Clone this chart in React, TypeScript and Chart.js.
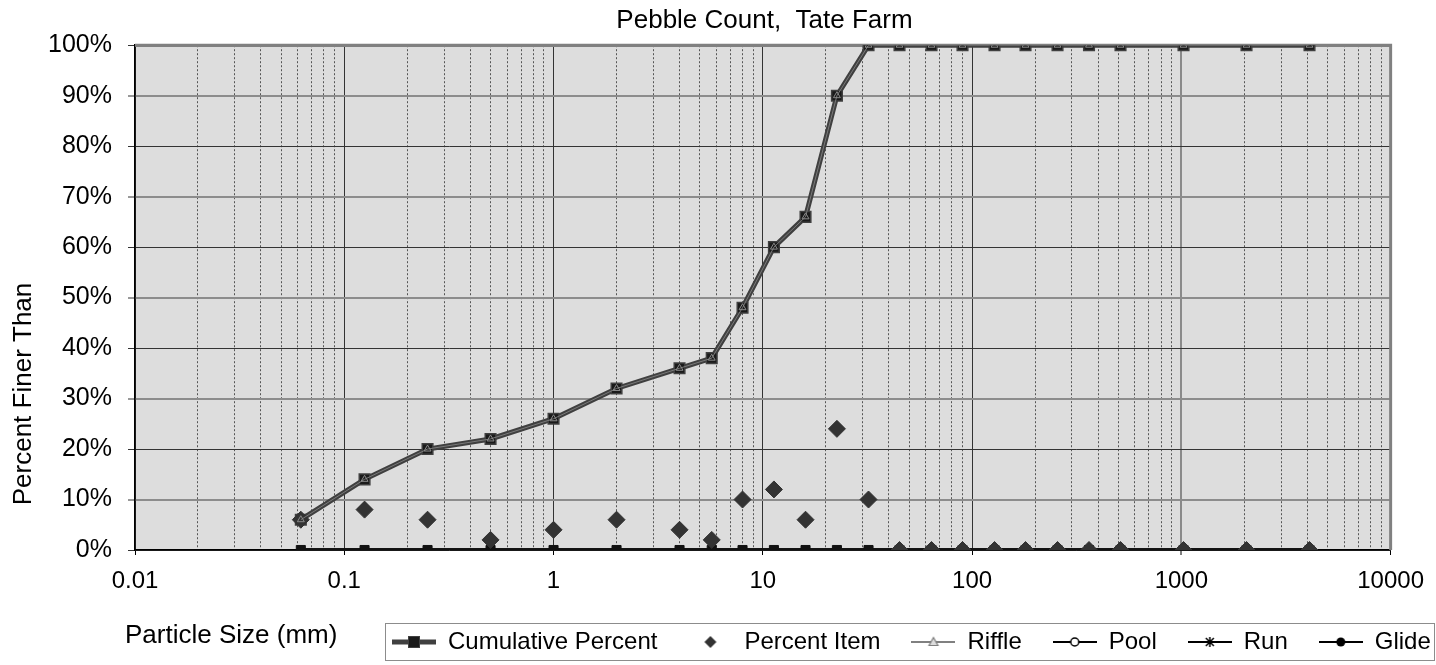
import React, { useEffect, useRef } from 'react';
import { Chart, registerables } from 'chart.js';

Chart.register(...registerables);

const FONT = "'Liberation Sans', Arial, sans-serif";

// ---- data ----
const particleSizes = [0.062, 0.125, 0.25, 0.5, 1, 2, 4, 5.7, 8, 11.3, 16, 22.6, 32, 45, 64, 90, 128, 180, 256, 362, 512, 1024, 2048, 4096];
const cumulativePercent = [6, 14, 20, 22, 26, 32, 36, 38, 48, 60, 66, 90, 100, 100, 100, 100, 100, 100, 100, 100, 100, 100, 100, 100];
const percentItem = [6, 8, 6, 2, 4, 6, 4, 2, 10, 12, 6, 24, 10, 0, 0, 0, 0, 0, 0, 0, 0, 0, 0, 0];
const riffle = [6, 14, 20, 22, 26, 32, 36, 38, 48, 60, 66, 90, 100, 100, 100, 100, 100, 100, 100, 100, 100, 100, 100, 100];
const pool = [0, 0, 0, 0, 0, 0, 0, 0, 0, 0, 0, 0, 0, 0, 0, 0, 0, 0, 0, 0, 0, 0, 0, 0];
const run = [0, 0, 0, 0, 0, 0, 0, 0, 0, 0, 0, 0, 0, 0, 0, 0, 0, 0, 0, 0, 0, 0, 0, 0];
const glide = [0, 0, 0, 0, 0, 0, 0, 0, 0, 0, 0, 0, 0, 0, 0, 0, 0, 0, 0, 0, 0, 0, 0, 0];

const seriesLabels = ['Cumulative Percent', 'Percent Item', 'Riffle', 'Pool', 'Run', 'Glide'];
const xDecades = [0.01, 0.1, 1, 10, 100, 1000, 10000];
const xDecadeLabels = ['0.01', '0.1', '1', '10', '100', '1000', '10000'];
const xMinorSteps = [2, 3, 4, 5, 6, 7, 8, 9];
const yTickValues = [0, 10, 20, 30, 40, 50, 60, 70, 80, 90, 100];

const chartTitle = 'Pebble Count,  Tate Farm';
const xTitle = 'Particle Size (mm)';
const yTitle = 'Percent Finer Than';

// ---- layout constants ----
const W = 1436;
const H = 665;
const PLOT_BOTTOM = 550;
const LEGEND_BOX = { left: 385.5, top: 623.5, width: 1049, height: 37 };
const LEGEND_ITEM_X = 392;
const LEGEND_ITEM_CY = 642;
const X_TITLE_LEFT = 125;
const X_TITLE_CY = 636;
const Y_TITLE_CX = 24;
const Y_TITLE_CY = 394;

const pts = (ys: number[]) => particleSizes.map((x, i) => ({ x, y: ys[i] }));

function makeIcon(kind: number): HTMLCanvasElement {
  const c = document.createElement('canvas');
  c.width = 44;
  c.height = 20;
  const g = c.getContext('2d') as CanvasRenderingContext2D;
  const cx = 22;
  const cy = 10;
  const line = (color: string, w: number) => {
    g.strokeStyle = color;
    g.lineWidth = w;
    g.beginPath();
    g.moveTo(0, cy);
    g.lineTo(44, cy);
    g.stroke();
  };
  if (kind === 0) {
    line('#404040', 5);
    g.fillStyle = '#1a1a1a';
    g.fillRect(cx - 5, cy - 5, 10, 10);
    g.strokeStyle = '#404040';
    g.lineWidth = 1;
    g.strokeRect(cx - 5.5, cy - 5.5, 11, 11);
  } else if (kind === 1) {
    g.fillStyle = '#333';
    g.beginPath();
    g.moveTo(cx - 6, cy);
    g.lineTo(cx, cy - 6);
    g.lineTo(cx + 6, cy);
    g.lineTo(cx, cy + 6);
    g.closePath();
    g.fill();
  } else if (kind === 2) {
    line('#808080', 2);
    g.fillStyle = '#dddddd';
    g.strokeStyle = '#808080';
    g.lineWidth = 1.2;
    g.beginPath();
    g.moveTo(cx, cy - 4.5);
    g.lineTo(cx + 4.5, cy + 3.5);
    g.lineTo(cx - 4.5, cy + 3.5);
    g.closePath();
    g.fill();
    g.stroke();
  } else if (kind === 3) {
    line('#000', 2);
    g.fillStyle = '#fff';
    g.strokeStyle = '#000';
    g.lineWidth = 1.5;
    g.beginPath();
    g.arc(cx, cy, 4, 0, Math.PI * 2);
    g.fill();
    g.stroke();
  } else if (kind === 4) {
    line('#000', 2);
    g.strokeStyle = '#000';
    g.lineWidth = 1.5;
    g.beginPath();
    g.moveTo(cx - 4, cy - 4);
    g.lineTo(cx + 4, cy + 4);
    g.moveTo(cx + 4, cy - 4);
    g.lineTo(cx - 4, cy + 4);
    g.moveTo(cx, cy - 5);
    g.lineTo(cx, cy + 5);
    g.stroke();
  } else {
    line('#000', 2);
    g.fillStyle = '#000';
    g.beginPath();
    g.arc(cx, cy, 4.5, 0, Math.PI * 2);
    g.fill();
  }
  return c;
}

const bgPlugin = {
  id: 'plotBackground',
  beforeDraw(chart: any) {
    const { ctx, chartArea: a } = chart;
    ctx.save();
    ctx.fillStyle = '#ffffff';
    ctx.fillRect(0, 0, chart.width, chart.height);
    ctx.fillStyle = '#dddddd';
    ctx.fillRect(a.left, a.top, a.right - a.left, a.bottom - a.top);
    ctx.restore();
  },
  beforeDatasetsDraw(chart: any) {
    const { ctx, chartArea: a } = chart;
    ctx.save();
    ctx.strokeStyle = '#808080';
    ctx.lineWidth = 3;
    ctx.beginPath();
    ctx.moveTo(a.left, a.top);
    ctx.lineTo(a.right, a.top);
    ctx.lineTo(a.right, a.bottom);
    ctx.stroke();
    ctx.restore();
  },
  afterLayout(chart: any) {
    const lg = chart.legend;
    if (lg) {
      const p = lg.options.labels.padding;
      const fs = lg.options.labels.font.size;
      lg.left = LEGEND_ITEM_X - p;
      lg.right = lg.left + lg.width;
      lg.top = LEGEND_ITEM_CY - fs / 2 - p;
      lg.bottom = lg.top + lg.height;
    }
    // widen the y axis label clip region (its box has zero width)
    const ys = chart.scales.y;
    ys.left = 0;
    // the axis titles are carried by invisible helper axes
    const xm = chart.scales.xMinor;
    xm.left = X_TITLE_LEFT;
    xm.bottom = X_TITLE_CY + (xm.options.title.font.size * 1.2) / 2;
    const yt = chart.scales.yTitleAxis;
    yt.left = Y_TITLE_CX - (yt.options.title.font.size * 1.2) / 2;
    yt.top = Y_TITLE_CY - 160;
    yt.bottom = Y_TITLE_CY + 160;
  },
  afterDraw(chart: any) {
    const ctx = chart.ctx;
    ctx.save();
    ctx.strokeStyle = '#8c8c8c';
    ctx.lineWidth = 1;
    ctx.strokeRect(LEGEND_BOX.left, LEGEND_BOX.top, LEGEND_BOX.width, LEGEND_BOX.height);
    ctx.restore();
  },
};

export default function App() {
  const ref = useRef<HTMLCanvasElement | null>(null);

  useEffect(() => {
    if (!ref.current) return;
    const icons = seriesLabels.map((_, i) => makeIcon(i));
    const xMinorTicks = xDecades
      .slice(0, -1)
      .flatMap((d) => xMinorSteps.map((k) => Number((d * k).toPrecision(6))));

    const chart = new Chart(ref.current, {
      type: 'line',
      data: {
        datasets: [
          {
            label: seriesLabels[0],
            data: pts(cumulativePercent),
            borderColor: '#404040',
            borderWidth: 5,
            pointStyle: 'rect',
            pointRadius: 7.5,
            pointBackgroundColor: '#1a1a1a',
            pointBorderColor: '#404040',
            pointBorderWidth: 1.5,
            tension: 0,
            order: 2,
          },
          {
            label: seriesLabels[1],
            data: pts(percentItem),
            showLine: false,
            pointStyle: 'rectRot',
            pointRadius: 8.5,
            pointBackgroundColor: '#333333',
            pointBorderColor: '#333333',
            pointBorderWidth: 1,
            order: 1,
          },
          {
            label: seriesLabels[2],
            data: pts(riffle),
            borderColor: '#7a7a7a',
            borderWidth: 1,
            pointStyle: 'triangle',
            pointRadius: 4,
            pointBackgroundColor: 'rgba(0,0,0,0)',
            pointBorderColor: '#8a8a8a',
            pointBorderWidth: 1,
            tension: 0,
            order: 0,
          },
          {
            label: seriesLabels[3],
            data: pts(pool),
            borderColor: '#111111',
            borderWidth: 3.5,
            pointRadius: 0,
            order: 5,
          },
          {
            label: seriesLabels[4],
            data: pts(run),
            borderColor: '#111111',
            borderWidth: 3.5,
            pointRadius: 0,
            order: 4,
          },
          {
            label: seriesLabels[5],
            data: pts(glide),
            borderColor: '#111111',
            borderWidth: 3.5,
            pointStyle: 'rect',
            pointRadius: 6.4,
            pointBackgroundColor: '#111111',
            pointBorderColor: '#111111',
            pointBorderWidth: 1,
            order: 3,
          },
        ],
      },
      options: {
        animation: false,
        responsive: false,
        events: [],
        layout: { padding: { left: 135, right: 42, top: 0, bottom: 0 } },
        plugins: {
          tooltip: { enabled: false },
          title: {
            display: true,
            text: chartTitle,
            color: '#000',
            font: { family: FONT, size: 26, weight: 'normal' },
            padding: { top: 5, bottom: 9 },
          },
          legend: {
            display: true,
            position: 'bottom',
            align: 'start',
            labels: {
              usePointStyle: true,
              pointStyleWidth: 44,
              padding: 31,
              color: '#000',
              font: { family: FONT, size: 24 },
              generateLabels: (ch: any) =>
                ch.data.datasets.map((ds: any, i: number) => ({
                  text: ds.label,
                  pointStyle: icons[i],
                  fillStyle: 'rgba(0,0,0,0)',
                  strokeStyle: 'rgba(0,0,0,0)',
                  lineWidth: 0,
                  hidden: false,
                  datasetIndex: i,
                  fontColor: '#000',
                })),
            },
          },
        },
        scales: {
          x: {
            type: 'logarithmic',
            position: 'bottom',
            min: 0.01,
            max: 10000,
            afterBuildTicks: (s: any) => {
              s.ticks = xDecades.map((v) => ({ value: v, major: true }));
            },
            afterFit: (s: any) => {
              s.height = H - PLOT_BOTTOM - (s.chart.legend ? s.chart.legend.height : 0);
            },
            ticks: {
              autoSkip: false,
              maxRotation: 0,
              minRotation: 0,
              padding: 12,
              color: '#000',
              font: { family: FONT, size: 24 },
              callback: (_v: any, i: number) => xDecadeLabels[i],
            },
            grid: {
              color: (c: any) => (c.tick && c.tick.value === 1000 ? '#8a8a8a' : '#333333'),
              lineWidth: (c: any) => (c.tick && c.tick.value === 1000 ? 2 : 1),
              tickLength: 5,
              tickColor: '#000',
              tickWidth: 1,
            },
            border: { color: '#000', width: 1.5 },
          },
          xMinor: {
            type: 'logarithmic',
            axis: 'x',
            position: 'bottom',
            min: 0.01,
            max: 10000,
            afterBuildTicks: (s: any) => {
              s.ticks = xMinorTicks.map((v) => ({ value: v }));
            },
            afterFit: (s: any) => {
              s.height = 0;
            },
            ticks: { display: false },
            grid: { color: '#555555', lineWidth: 1, drawTicks: false },
            border: { display: false, dash: [2, 2] },
            title: {
              display: true,
              text: xTitle,
              align: 'start',
              color: '#000',
              font: { family: FONT, size: 26 },
              padding: 0,
            },
          },
          y: {
            type: 'linear',
            min: 0,
            max: 100,
            afterBuildTicks: (s: any) => {
              s.ticks = yTickValues.map((v) => ({ value: v }));
            },
            afterFit: (s: any) => {
              s.width = 0;
            },
            ticks: {
              padding: 16,
              color: '#000',
              font: { family: FONT, size: 25 },
              callback: (v: any) => v + '%',
            },
            grid: {
              color: (c: any) => {
                const v = c.tick ? c.tick.value : 0;
                if (v === 100) return '#808080';
                return (v / 10) % 2 === 1 ? '#8c8c8c' : '#333333';
              },
              lineWidth: (c: any) => {
                const v = c.tick ? c.tick.value : 0;
                if (v === 100) return 3;
                return (v / 10) % 2 === 1 ? 2 : 1;
              },
              tickLength: 7,
              tickColor: '#333',
              tickWidth: 1,
            },
            border: { color: '#000', width: 1.5 },
          },
          yTitleAxis: {
            type: 'linear',
            axis: 'y',
            position: 'left',
            min: 0,
            max: 100,
            afterFit: (s: any) => {
              s.width = 0;
            },
            ticks: { display: false },
            grid: { display: false, drawTicks: false },
            border: { display: false },
            title: {
              display: true,
              text: yTitle,
              color: '#000',
              font: { family: FONT, size: 26 },
              padding: 0,
            },
          },
        },
      } as any,
      plugins: [bgPlugin],
    });
    return () => chart.destroy();
  }, []);

  return (
    <div style={{ position: 'fixed', left: 0, top: 0, width: W, height: H, background: '#fff' }}>
      <canvas ref={ref} width={W} height={H} style={{ display: 'block', width: W, height: H }} />
    </div>
  );
}
